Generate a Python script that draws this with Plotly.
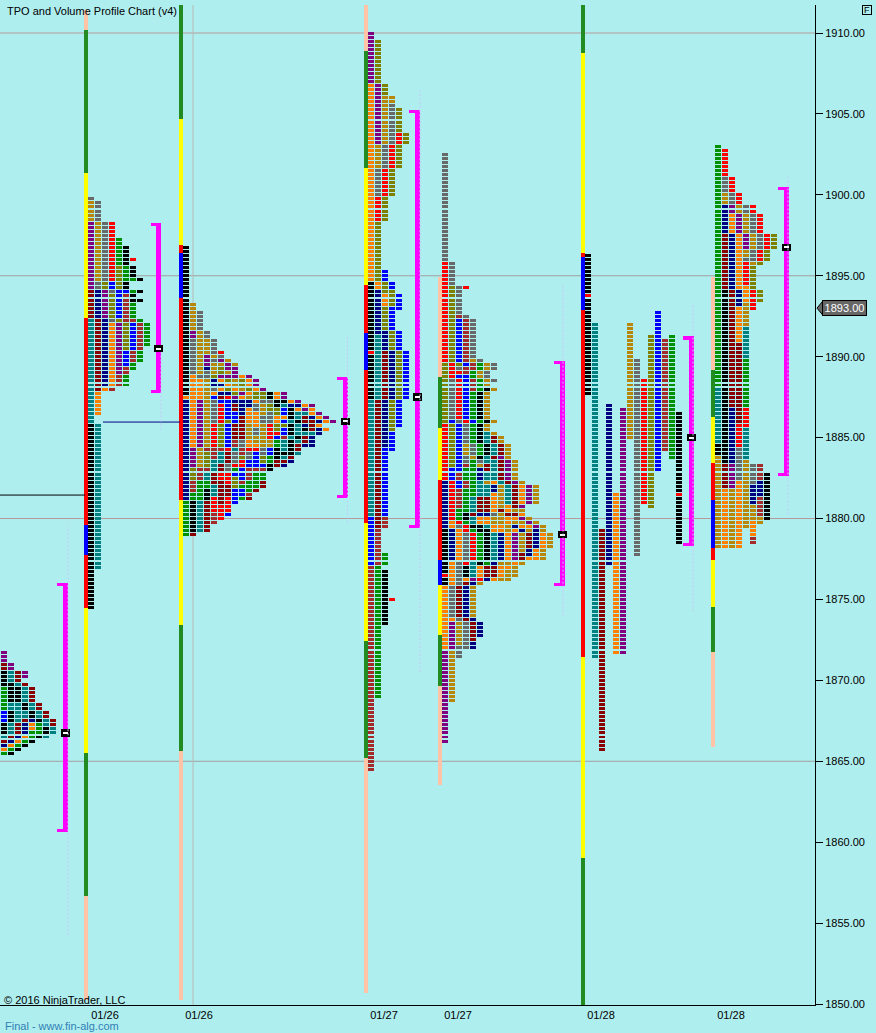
import plotly.graph_objects as go

COLORS = {"K": "#000000", "R": "#ff0000", "B": "#0000ff", "N": "#000080", "T": "#008080",
          "M": "#8b0000", "G": "#009000", "O": "#ff8000", "P": "#800080", "A": "#b8860b",
          "Y": "#808000", "S": "#696969", "W": "#a52a2a"}
SESSION_COLORS = {"peach": "#ffc4a8", "green": "#228b22", "yellow": "#ffff00", "red": "#ff0000", "blue": "#0000ff"}

# TPO profiles: left edge of the first column, top price, one run-length string per column
P0_X, P0_TOP = 1, 1871.75
P0_COLS = ["P3 M2 K4 G6 B3 K3 T1 M1 N1 O1 G1",
           "_3 P2 T3 K5 T2 K3 T3 M1 N1 O1 G1 K1",
           "_5 M3 T1 K4 T5 M3 N1 O1 G1 K1",
           "_5 P2 _1 M1 T4 K2 T2 M1 N3 O1 G1 K1",
           "_9 M4 T2 K2 N1 O2 G2 K1",
           "_13 M2 T2 K1 G3 K1",
           "_15 M2 T2 K2 T1",
           "_17 M2 T2"]

P1_X, P1_TOP = 88, 1899.75
P1_COLS = ["S1 A5 P17 M7 T26 K46",
           "_1 S5 A15 S2 N7 M18 O6 _2 T36",
           "_6 S15 Y2 P7 N17 O1",
           "_6 R15 B2 S1 Y6 S1 O16 W1",
           "_10 G7 Y6 B7 Y1 P13 W3",
           "_12 K5 G4 K2 B1 W7 Y7 B4 W2 G3",
           "_15 R1 _1 K3 G1 _2 G1 K2 G4 W1 B7 W3 G2",
           "_20 K1 _2 K1 _1 K1 _4 G1 W7 G3",
           "_31 G6"]

P2_X, P2_TOP = 183, 1896.75
P2_COLS = ["K37 O1 N25 G9",
           "_14 A7 P2 S9 O18 P5 Y3 W3 G2 K8 M1",
           "_16 S5 A11 S1 O5 P12 A5 W3 G5 T8",
           "_21 S2 A4 P3 N1 S2 A17 W1 Y4 W1 T2 G2 K3 M8",
           "_23 S4 A1 S1 A3 Y1 N2 S1 O1 B1 S6 R6 W3 T3 M3 T3 R4 W3",
           "_26 R1 S1 P1 A1 Y2 P1 O1 N1 O1 N1 M1 B1 R5 Y6 W1 T3 M2 R2 M6 R4",
           "_28 A1 P2 A1 P1 Y1 O1 Y1 N1 R1 B1 B4 Y1 B6 R1 M3 S2 R3 M3 R4 B1",
           "_29 A1 P3 A2 O1 Y1 P1 N1 M2 B3 M4 W2 T1 S3 R1 G1 B1 Y3 B4",
           "_32 O1 Y2 A1 P1 O1 N4 M6 S2 W2 Y1 R2 B3 W1 G1 B2 G1",
           "_32 P1 O2 Y1 O1 A1 N2 O4 A4 O2 R1 S2 B2 W3 G3 W1 M1",
           "_33 P2 O1 Y2 O1 S2 O4 S2 A2 O1 R1 B4 W1 G4 M1",
           "_35 P1 Y2 S1 A3 S2 A6 S2 Y2 B1 W1 G2 M2",
           "_36 K2 S1 Y2 S3 R4 A2 B2 G2 K2",
           "_36 O2 K2 Y2 O2 Y2 R1 B1 G2 K3 M2",
           "_36 P2 K1 T1 B2 O1 B1 Y1 B2 W1 T3 K1 T1 M1 N1",
           "_38 O1 N1 K3 T1 K3 T1 K4 M1 N1",
           "_38 P1 N1 O1 T2 K1 T3 K1 T1 M2 T1",
           "_39 O1 P1 T1 M2 N1 K1 T1 M2 N1",
           "_39 P1 O2 N1 M3 T1 N3",
           "_41 P1 O1 N1 O1 N2",
           "_42 P1 O1 _1 O1",
           "_43 P1"]

P3_X, P3_TOP = 368, 1910.0
P3_COLS = ["P13 O49 K17 R1 K11 T29 B12 W51",
           "_2 Y11 P15 A6 S7 R6 Y15 O2 N11 T16 M32 W9 G33",
           "_13 Y3 A12 S6 R7 Y6 _12 B3 Y3 O3 Y6 N5 M12 N12 B17 W3 _6 G3 _1 K14",
           "_16 A2 S10 R6 Y7 _21 B2 Y4 B6 Y5 N12 Y8 B5 _36 R1",
           "_19 Y6 R3 Y6 _31 B4 _5 B5 Y12 B7",
           "_25 Y3 _51 B12"]

P4_X, P4_TOP = 442, 1902.5
P4_COLS = ["S27 R25 Y15 R14 N12 K11 R1 K2 O16 P23",
           "_27 S6 Y19 R4 S10 B1 Y11 B3 R10 O2 N8 O6 S8 O1 P7 A13",
           "_33 S7 W1 B11 Y1 S1 R1 B1 R10 S1 B12 W2 B2 W5 G3 R1 S1 O8 S6 M8 S1 A6 S3",
           "_33 R1 _6 S1 W11 B1 W2 B11 R1 S5 A3 S2 W1 G3 W2 G6 K2 G1 R2 S7 R1 K3 O1 M1 N8 M1 S7",
           "_41 S10 A1 W2 G2 W3 G7 B1 G5 S3 A1 G9 T4 M1 T2 K1 G1 R7 T4 P1 N1 A8 N1 M5 N2",
           "_51 S1 G2 A2 G3 K7 G1 K5 G3 K1 S1 A1 N3 T4 M4 N1 O2 K2 G7 K1 O3 R1 A1 _9 N4",
           "_52 A2 S2 A2 K1 A7 K1 A2 T3 K3 T2 M2 T2 A1 T3 M4 N1 O2 T1 K8 G1 M3 N1",
           "_52 S2 _2 S1 _1 A1 _7 A1 _2 A1 M2 T3 M1 T3 T2 O1 N2 O5 S1 A2 O2 T7 N1 M3 O1",
           "_70 A2 M3 P1 M5 T1 A6 M1 A3 O2 N7 A1 O3 A1",
           "_72 A4 P5 M1 T5 O2 M1 O2 A2 O7 A1 O1 A3",
           "_76 A5 P1 M6 A1 M1 O1 A1 N1 O1 P7 O1 A3",
           "_81 A1 O5 P1 A1 O1 P1 A1 O1 N1 A5 M2 A1",
           "_82 P5 _3 A1 P1 O1 A1 M4 N2 O1",
           "_82 A5 _4 A1 P1 N5 O3",
           "_92 A2 O4 A3",
           "_94 A4"]

P5_X, P5_TOP = 585, 1896.25
P5_COLS = ["K10 R1 K24", "_17 T83", "_68 M55", "_37 N40", "_59 O40", "_38 P61", "_17 A29",
           "_26 S49", "_31 R31", "_20 Y43", "_14 B40", "_21 W28", "_20 G31", "_39 K20 R1 K12"]

P6_X, P6_TOP = 715, 1903.0
P6_COLS = ["G60 T14 K3 A23",
           "_1 R7 S4 A3 N7 M14 K43 M6 O15",
           "_8 R4 S3 P2 O5 N14 M29 N14 P6 A15",
           "_12 R3 A2 P5 O14 N4 O9 M20 R6 S8 O17",
           "_15 S2 A5 P4 A2 S1 R6 O4 A6 T8 G12 R5 T8 A17",
           "_15 R2 S5 A4 S3 A1 Y6 R5 _38 S5 N5 A4 O4 W2",
           "_17 R5 S4 R3 Y1 _6 Y3 _40 W4 N4 W5 A2",
           "_22 R4 Y3 _52 K12",
           "_22 Y4"]

PROFILES = [(P0_X, P0_TOP, P0_COLS), (P1_X, P1_TOP, P1_COLS), (P2_X, P2_TOP, P2_COLS), (P3_X, P3_TOP, P3_COLS),
            (P4_X, P4_TOP, P4_COLS), (P5_X, P5_TOP, P5_COLS), (P6_X, P6_TOP, P6_COLS)]

# Session range bars: x, colours, price boundaries top to bottom
SESSIONS = [
    (86, ["peach", "green", "yellow", "red", "blue", "red", "yellow", "green", "peach"],
     [1911.42, 1910.19, 1901.35, 1892.39, 1879.60, 1877.74, 1874.47, 1865.51, 1856.67, 1850.25]),
    (181, ["green", "yellow", "red", "blue", "red", "yellow", "green", "peach"],
     [1911.73, 1904.69, 1896.90, 1896.41, 1893.62, 1881.14, 1873.42, 1865.63, 1850.25]),
    (366, ["peach", "green", "yellow", "red", "blue", "red", "yellow", "green", "peach"],
     [1911.73, 1908.89, 1901.66, 1894.43, 1891.46, 1889.18, 1879.72, 1872.43, 1865.20, 1850.68]),
    (440, ["peach", "green", "yellow", "red", "blue", "yellow", "green", "peach"],
     [1894.92, 1888.74, 1885.59, 1882.38, 1877.44, 1875.89, 1872.80, 1869.65, 1863.53]),
    (583, ["green", "yellow", "red", "blue", "red", "yellow", "green"],
     [1911.73, 1908.76, 1896.41, 1896.16, 1892.88, 1871.44, 1859.02, 1849.94]),
    (713, ["peach", "green", "yellow", "red", "blue", "red", "yellow", "green", "peach"],
     [1894.92, 1889.18, 1886.27, 1883.43, 1881.14, 1878.18, 1877.44, 1874.53, 1871.75, 1865.88]),
]

# Value-area brackets: x, high, low; POC price
BRACKET_X = [65, 158.5, 345, 417, 562, 691, 786]
BRACKET_HIGH = [1876.0, 1898.25, 1888.75, 1905.25, 1889.75, 1891.25, 1900.5]
BRACKET_LOW = [1860.6, 1887.75, 1881.25, 1879.4, 1875.8, 1878.3, 1882.6]
POC_PRICE = [1866.75, 1890.5, 1886.0, 1887.5, 1879.0, 1885.0, 1896.75]

# Faint developing-volume traces
FAINT_X = [68, 161, 347.5, 420, 563, 693, 788]
FAINT_HIGH = [1879.5, 1890.25, 1891.25, 1906.5, 1894.5, 1893.25, 1901.25]
FAINT_LOW = [1854.25, 1885.5, 1879.75, 1870.5, 1874.0, 1874.25, 1880.25]

LEVELS_RED = [1910, 1880]
LEVELS_GRAY = [1895, 1865]
GRID_X = 193
DATE_X = [105, 199, 384, 458, 601, 731]
DATE_LABELS = ["01/26", "01/26", "01/27", "01/27", "01/28", "01/28"]
PRICE_TICKS = [1850, 1855, 1860, 1865, 1870, 1875, 1880, 1885, 1890, 1895, 1900, 1905, 1910]
LAST_PRICE = 1893.0

ROW = 0.25
ROW_H = 0.185
COL_PITCH = 7
COL_W = 6
Y_TOP, Y_BOT = 1911.73, 1849.94

fig = go.Figure()

# session bars
seg = {}
for x, cols, edges in SESSIONS:
    for c, hi, lo in zip(cols, edges[:-1], edges[1:]):
        s = seg.setdefault(c, ([], [], []))
        s[0].append(x); s[1].append(lo); s[2].append(hi - lo)
for c, (xs, bases, hs) in seg.items():
    fig.add_trace(go.Bar(x=xs, y=hs, base=bases, width=4, marker=dict(color=SESSION_COLORS[c], line_width=0)))

# profile cells
cells = {k: ([], []) for k in COLORS}
for x0, top, cols in PROFILES:
    for ci, spec in enumerate(cols):
        r = 0
        for run in spec.split():
            letter, n = run[0], int(run[1:])
            if letter != "_":
                for k in range(n):
                    cells[letter][0].append(x0 + COL_PITCH * ci + COL_W / 2)
                    cells[letter][1].append(top - ROW * (r + k) - ROW_H / 2)
            r += n
for k, (xs, bases) in cells.items():
    fig.add_trace(go.Bar(x=xs, y=[ROW_H] * len(xs), base=bases, width=COL_W,
                         marker=dict(color=COLORS[k], line_width=0)))

# horizontal levels, reference lines
for lv in LEVELS_RED:
    fig.add_shape(type="line", x0=0, x1=815, y0=lv, y1=lv, line=dict(color="#b49a9a", width=1), layer="below")
for lv in LEVELS_GRAY:
    fig.add_shape(type="line", x0=0, x1=815, y0=lv, y1=lv, line=dict(color="#a0a0a0", width=1), layer="below")
fig.add_shape(type="line", x0=GRID_X, x1=GRID_X, y0=Y_BOT, y1=Y_TOP, line=dict(color="#b8b8b8", width=1), layer="below")
fig.add_trace(go.Scatter(x=[0, 85], y=[1881.45, 1881.45], mode="lines", line=dict(color="#000000", width=1)))
fig.add_trace(go.Scatter(x=[103, 180], y=[1885.96, 1885.96], mode="lines", line=dict(color="#000080", width=1)))

# faint dashed traces
for x, hi, lo in zip(FAINT_X, FAINT_HIGH, FAINT_LOW):
    fig.add_trace(go.Scatter(x=[x, x], y=[lo, hi], mode="lines", line=dict(color="#c4c8fa", width=1, dash="2px,2px")))

# brackets
CAP_H = 0.2
fig.add_trace(go.Bar(x=BRACKET_X, y=[h - l for h, l in zip(BRACKET_HIGH, BRACKET_LOW)], base=BRACKET_LOW, width=5,
                     marker=dict(color="#ff00ff", line_width=0)))
fig.add_trace(go.Bar(x=[x - 4 for x in BRACKET_X] * 2, y=[CAP_H] * 14,
                     base=[h - CAP_H for h in BRACKET_HIGH] + BRACKET_LOW, width=8,
                     marker=dict(color="#ff00ff", line_width=0)))
# POC marks
fig.add_trace(go.Bar(x=BRACKET_X, y=[0.45] * 7, base=[p - 0.225 for p in POC_PRICE], width=9,
                     marker=dict(color="#000000", line_width=0)))
fig.add_trace(go.Bar(x=BRACKET_X, y=[0.13] * 7, base=[p - 0.065 for p in POC_PRICE], width=5,
                     marker=dict(color="#ffffff", line_width=0)))

# price tag
PX = 815.0
fig.add_shape(type="path", xref="paper", yref="y",
              path=f"M {817/PX} {LAST_PRICE} L {823/PX} {LAST_PRICE+0.45} L {823/PX} {LAST_PRICE-0.45} Z",
              fillcolor="#666666", line=dict(color="#000000", width=1))
ann = [
    dict(xref="paper", yref="y", x=844 / PX, xanchor="center", y=LAST_PRICE, text="1893.00", showarrow=False,
         font=dict(family="Liberation Sans", size=11, color="#ffffff"), bgcolor="#666666",
         bordercolor="#000000", borderwidth=1, borderpad=1, width=41, height=12),
    dict(xref="paper", yref="paper", x=866.5 / PX, xanchor="center", y=1 - 5 / 1000, yanchor="middle", text="F",
         showarrow=False, font=dict(family="Liberation Sans", size=9, color="#000000"), bordercolor="#000000",
         borderwidth=1, borderpad=0, width=8, height=8),
    dict(xref="paper", yref="paper", x=5 / PX, y=1 - 6 / 1000, xanchor="left", yanchor="middle", showarrow=False,
         text="TPO and Volume Profile Chart (v4)", font=dict(family="Liberation Sans", size=11, color="#000000")),
    dict(xref="paper", yref="paper", x=2 / PX, y=1 - 995 / 1000, xanchor="left", yanchor="middle", showarrow=False,
         text="© 2016 NinjaTrader, LLC", font=dict(family="Liberation Sans", size=11, color="#000000")),
    dict(xref="paper", yref="paper", x=3 / PX, y=1 - 1021 / 1000, xanchor="left", yanchor="middle", showarrow=False,
         text="Final - www.fin-alg.com", font=dict(family="Liberation Sans", size=11, color="#2f7fb5")),
]

fig.update_layout(
    width=876, height=1033, autosize=False, showlegend=False, barmode="overlay", bargap=0,
    paper_bgcolor="#afeeee", plot_bgcolor="#afeeee",
    margin=dict(l=0, r=61, t=5, b=28, pad=0),
    annotations=ann,
    xaxis=dict(range=[0, 815], tickmode="array", tickvals=DATE_X, ticktext=DATE_LABELS, ticks="", showgrid=False,
               zeroline=False, showline=True, linecolor="#000000", linewidth=1,
               tickfont=dict(family="Liberation Sans", size=11, color="#000000")),
    yaxis=dict(range=[Y_BOT, Y_TOP], side="right", tickmode="array", tickvals=PRICE_TICKS,
               ticktext=[f"{v:.2f}" for v in PRICE_TICKS], ticks="outside", ticklen=7, tickwidth=1, tickcolor="#000000",
               showgrid=False, zeroline=False, showline=True, linecolor="#000000", linewidth=1,
               tickfont=dict(family="Liberation Sans", size=11, color="#000000")),
)
fig.write_html("out.html", config={"displayModeBar": False},
               post_script="document.body.style.margin='0';document.body.style.overflow='hidden';")
